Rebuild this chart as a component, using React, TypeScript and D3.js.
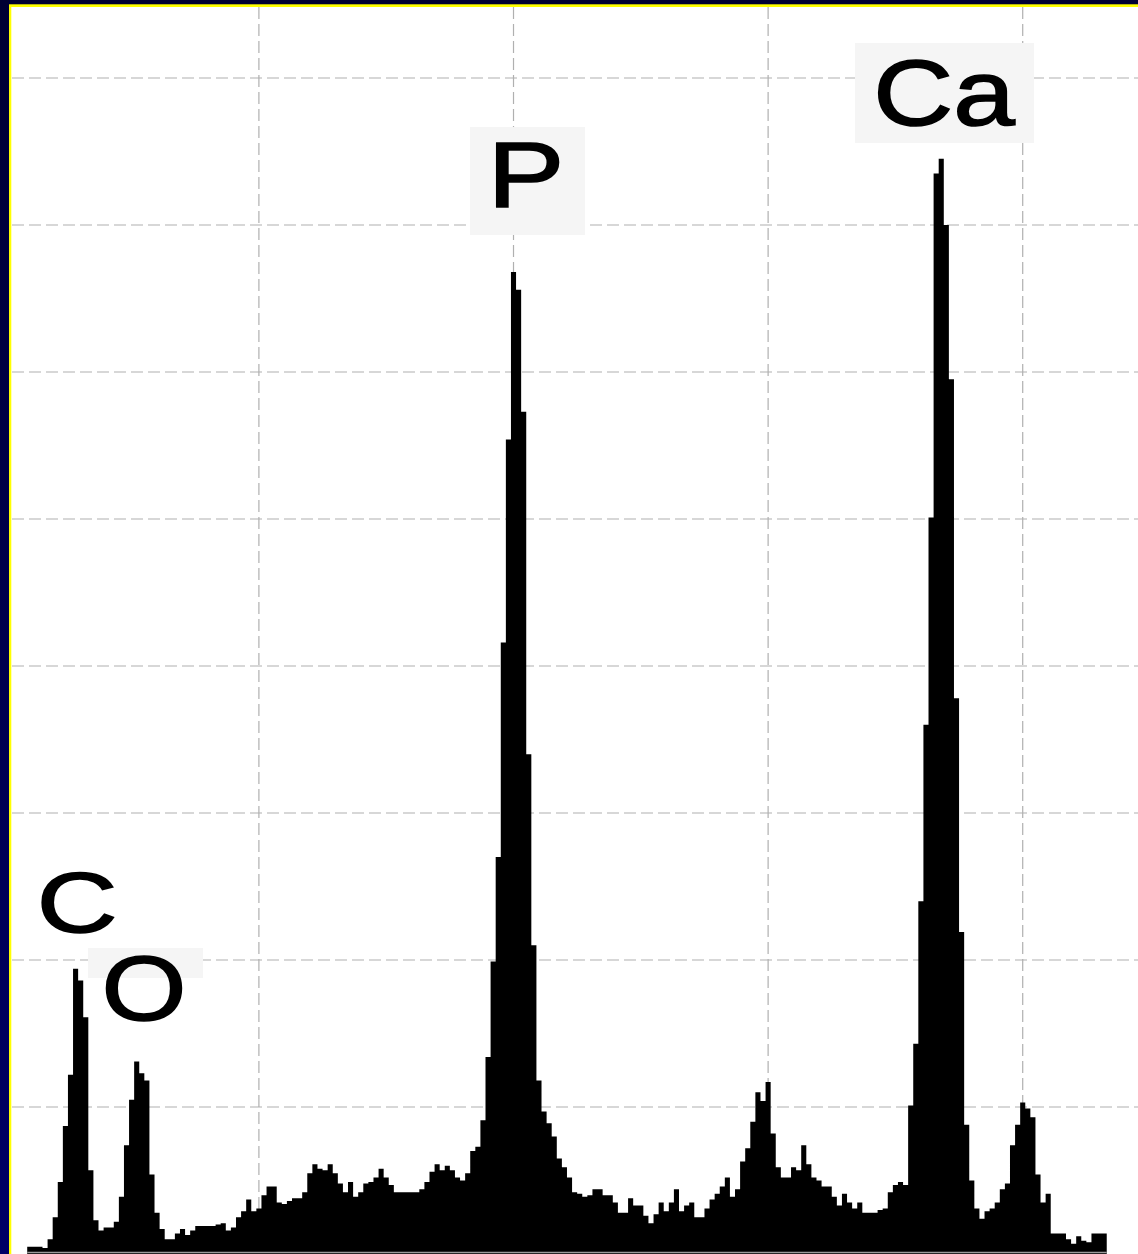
import React from "react";
import * as d3 from "d3";

// EDS spectrum, 0.02 keV channels starting at 0.09 keV
const binStart = 0.09;
const binWidth = 0.02;
const counts = [
  5, 5, 5, 4, 10, 25, 49, 87, 122, 194,
  186, 161, 57, 23, 16, 18, 18, 22, 39, 74,
  105, 131, 123, 118, 54, 28, 17, 10, 10, 14,
  17, 13, 16, 19, 19, 19, 19, 20, 21, 16,
  18, 25, 29, 37, 29, 31, 40, 46, 46, 35,
  34, 36, 38, 38, 42, 55, 61, 58, 57, 61,
  55, 48, 42, 49, 39, 42, 48, 49, 52, 58,
  52, 47, 42, 42, 42, 42, 42, 44, 49, 56,
  61, 57, 60, 57, 52, 50, 55, 70, 73, 91,
  134, 199, 270, 416, 554, 668, 656, 573, 340, 210,
  118, 97, 89, 80, 65, 59, 52, 42, 41, 39,
  40, 44, 44, 40, 40, 35, 28, 28, 38, 33,
  33, 26, 21, 27, 35, 29, 35, 44, 29, 33,
  35, 25, 25, 31, 37, 41, 46, 52, 39, 44,
  63, 72, 90, 110, 104, 117, 82, 59, 52, 52,
  59, 57, 74, 61, 52, 50, 46, 46, 39, 33,
  41, 35, 31, 35, 28, 28, 28, 30, 31, 42,
  47, 49, 47, 101, 143, 240, 360, 501, 735, 745,
  700, 595, 378, 219, 88, 50, 31, 24, 29, 31,
  35, 44, 48, 74, 88, 103, 99, 93, 54, 35,
  41, 14, 14, 14, 10, 7, 12, 9, 8, 14,
  14, 14,
];

const gridEnergies = [1, 2, 3, 4];
const gridCounts = [100, 200, 300, 400, 500, 600, 700, 800];
const elements = ["C", "O", "P", "Ca"];

// label placement (pixels) – style only
const labelLayout: Record<string, any> = {
  C: { x: 77, y: 932, size: 86, sx: 1.3, box: null },
  O: { x: 144, y: 1020, size: 91, sx: 1.2, box: [88, 948, 115, 30] },
  P: { x: 526, y: 207, size: 93, sx: 1.24, box: [470, 127, 115, 108] },
  Ca: { x: 944, y: 125, size: 93, sx: 1.19, box: [855, 43, 179, 100] },
};

const W = 1138;
const H = 1254;

export default function App() {
  const x = d3.scaleLinear().domain([0, 4.4528]).range([4.3, 1138]);
  const y = d3.scaleLinear().domain([0, 800]).range([1254, 78]);

  const pts: [number, number][] = [];
  counts.forEach((c, i) => {
    const e0 = binStart + i * binWidth;
    pts.push([e0, c]);
    pts.push([e0 + binWidth, c]);
  });
  const area = d3
    .area<[number, number]>()
    .x((d) => x(d[0]))
    .y0(y(0))
    .y1((d) => y(d[1]));

  const xEnd = x(binStart + counts.length * binWidth);

  return (
    <svg
      width={W}
      height={H}
      style={{ position: "absolute", left: 0, top: 0, display: "block" }}
    >
      <defs>
        <linearGradient id="navy" x1="0" y1="0" x2="0" y2="1">
          <stop offset="0" stopColor="#000033" />
          <stop offset="1" stopColor="#000066" />
        </linearGradient>
      </defs>
      <rect x={0} y={0} width={W} height={H} fill="url(#navy)" />
      <rect x={9} y={4.3} width={W} height={H} fill="#ffff00" />
      <rect x={11.3} y={7} width={W} height={H} fill="#ffffff" />

      {gridCounts.map((c) => (
        <line
          key={"h" + c}
          x1={12}
          x2={W}
          y1={y(c)}
          y2={y(c)}
          stroke="#b0b0b0"
          strokeWidth={1.2}
          strokeDasharray="12 5"
        />
      ))}
      {gridEnergies.map((e) => (
        <line
          key={"v" + e}
          x1={x(e)}
          x2={x(e)}
          y1={7}
          y2={H}
          stroke="#b0b0b0"
          strokeWidth={1.2}
          strokeDasharray="12 5"
        />
      ))}

      <path d={area(pts) || ""} fill="#000" />
      <line
        x1={x(binStart)}
        x2={xEnd}
        y1={1252.5}
        y2={1252.5}
        stroke="#9a9a9a"
        strokeWidth={1.5}
      />

      {elements.map((el) => {
        const l = labelLayout[el];
        return (
          <g key={el}>
            {l.box && (
              <rect
                x={l.box[0]}
                y={l.box[1]}
                width={l.box[2]}
                height={l.box[3]}
                fill="#f5f5f5"
              />
            )}
            <text
              transform={`translate(${l.x},${l.y}) scale(${l.sx},1)`}
              textAnchor="middle"
              fontFamily="'Liberation Sans', Arial, sans-serif"
              fontSize={l.size}
              fill="#000"
              stroke="#000"
              strokeWidth={1.6}
            >
              {el}
            </text>
          </g>
        );
      })}
    </svg>
  );
}
